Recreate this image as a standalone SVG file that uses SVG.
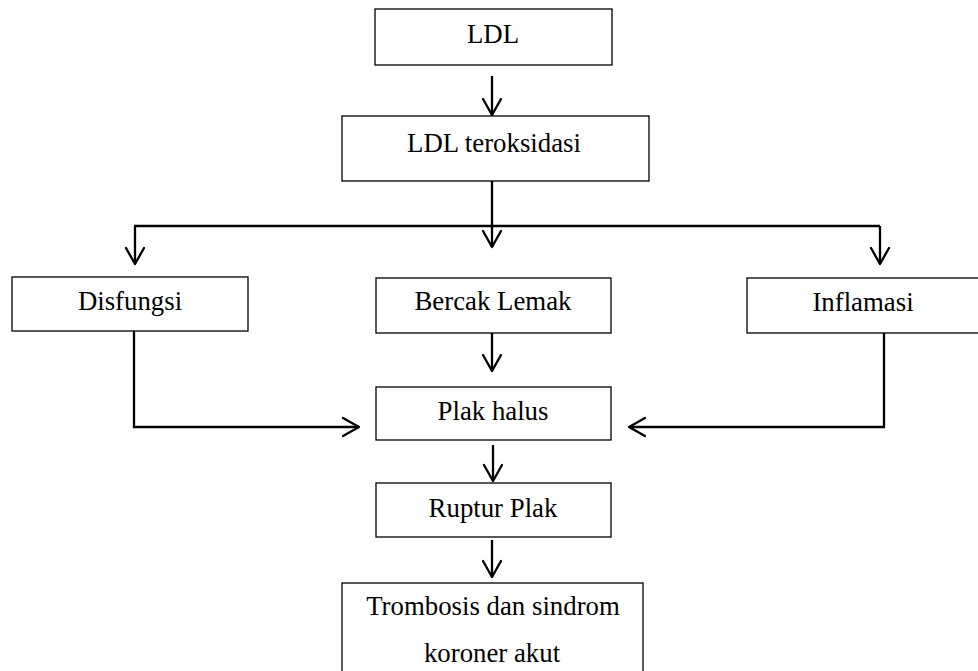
<svg xmlns="http://www.w3.org/2000/svg" width="978" height="671" viewBox="0 0 978 671">
<style>
.box{fill:#fff;stroke:#000;stroke-width:1.3}
.t{font-family:"Liberation Serif","Times New Roman",serif;font-size:26.8px;fill:#000;text-anchor:middle}
.c{fill:none;stroke:#000;stroke-width:2.3}
.h{fill:none;stroke:#000;stroke-width:2.3;stroke-linecap:round;stroke-linejoin:round}
</style>
<rect width="978" height="671" fill="#fff"/>
<g id="connectors">
<path class="c" d="M492 76V115"/><path class="h" d="M483 99L492 115L501 99"/>
<path class="c" d="M492 181V247"/><path class="h" d="M483 231L492 247L501 231"/>
<path class="c" d="M134 226H880"/>
<path class="c" d="M135 226V264"/><path class="h" d="M126 248L135 264L144 248"/>
<path class="c" d="M880 226V264"/><path class="h" d="M871 248L880 264L889 248"/>
<path class="c" d="M492 333V371"/><path class="h" d="M483 355L492 371L501 355"/>
<path class="c" d="M134 331V427H359"/><path class="h" d="M343 418L359 427L343 436"/>
<path class="c" d="M884 333V427H629"/><path class="h" d="M645 418L629 427L645 436"/>
<path class="c" d="M493 445V481"/><path class="h" d="M484 465L493 481L502 465"/>
<path class="c" d="M492 540V577"/><path class="h" d="M483 561L492 577L501 561"/>
</g>
<g id="ldl"><rect class="box" x="375" y="9" width="237" height="56"/><text class="t" x="493" y="43">LDL</text></g>
<g id="ldl-teroksidasi"><rect class="box" x="342" y="116" width="307" height="65"/><text class="t" x="494" y="152">LDL teroksidasi</text></g>
<g id="disfungsi"><rect class="box" x="12" y="277" width="236" height="54"/><text class="t" x="130" y="310">Disfungsi</text></g>
<g id="bercak-lemak"><rect class="box" x="376" y="278" width="235" height="55"/><text class="t" x="493" y="310">Bercak Lemak</text></g>
<g id="inflamasi"><rect class="box" x="747" y="278" width="240" height="55"/><text class="t" x="863" y="311">Inflamasi</text></g>
<g id="plak-halus"><rect class="box" x="376" y="387" width="235" height="53"/><text class="t" x="493" y="420">Plak halus</text></g>
<g id="ruptur-plak"><rect class="box" x="376" y="483" width="235" height="54"/><text class="t" x="493" y="517">Ruptur Plak</text></g>
<g id="trombosis"><rect class="box" x="342" y="583" width="301" height="100"/><text class="t" x="493" y="615">Trombosis dan sindrom</text><text class="t" x="492" y="662">koroner akut</text></g>
</svg>
